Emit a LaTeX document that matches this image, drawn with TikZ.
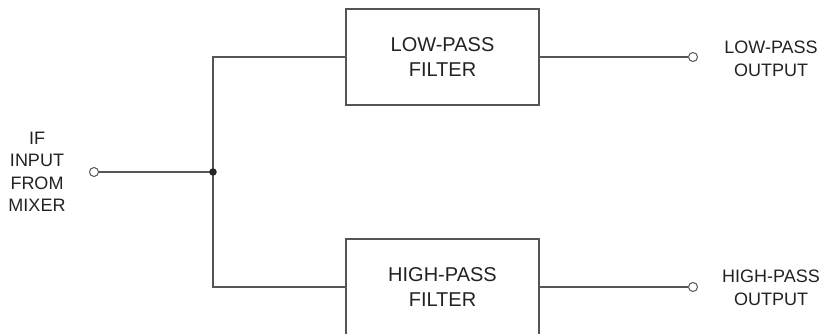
\documentclass[tikz,border=0pt]{standalone}
\usepackage{fontspec}
\setmainfont{Liberation Sans}
\definecolor{linecol}{HTML}{555555}
\definecolor{txtcol}{HTML}{222222}
\begin{document}
\begin{tikzpicture}[x=1pt,y=-1pt]
\tikzset{
 filterbox/.style={draw=linecol, line width=1.1pt, minimum width=193pt, minimum height=96pt, inner sep=0pt, align=center, font=\fontsize{20}{25}\selectfont, text=txtcol},
 terminal/.style={circle, draw=linecol, fill=white, inner sep=0pt, minimum size=9pt, line width=1pt},
 junction/.style={circle, fill=black!85, inner sep=0pt, minimum size=7.5pt},
 lbl/.style={align=center, font=\fontsize{18}{22.5}\selectfont, text=txtcol, inner sep=0pt},
 wire/.style={draw=linecol, line width=1.1pt}
}
\useasboundingbox (0,0) rectangle (825,334);
\node[filterbox] (lpf) at (442.5,57) {LOW-PASS\\FILTER};
\node[filterbox] (hpf) at (442.5,287) {HIGH-PASS\\FILTER};
\node[terminal] (in) at (94,172) {};
\coordinate (j) at (213,172);
\coordinate (jt) at (213,57);
\coordinate (jb) at (213,287);
\node[terminal] (lo) at (693,57) {};
\node[terminal] (ho) at (693,287) {};
\draw[wire] (in) -- (j);
\draw[wire] (lpf.west) -- (jt) -- (jb) -- (hpf.west);
\draw[wire] (lpf.east) -- (lo);
\draw[wire] (hpf.east) -- (ho);
\node[junction] (jdot) at (j) {};
\node[lbl] (inl) at (37,172) {IF\\INPUT\\FROM\\MIXER};
\node[lbl] (lol) at (771,59) {LOW-PASS\\OUTPUT};
\node[lbl] (hol) at (771,288) {HIGH-PASS\\OUTPUT};
\end{tikzpicture}
\end{document}
